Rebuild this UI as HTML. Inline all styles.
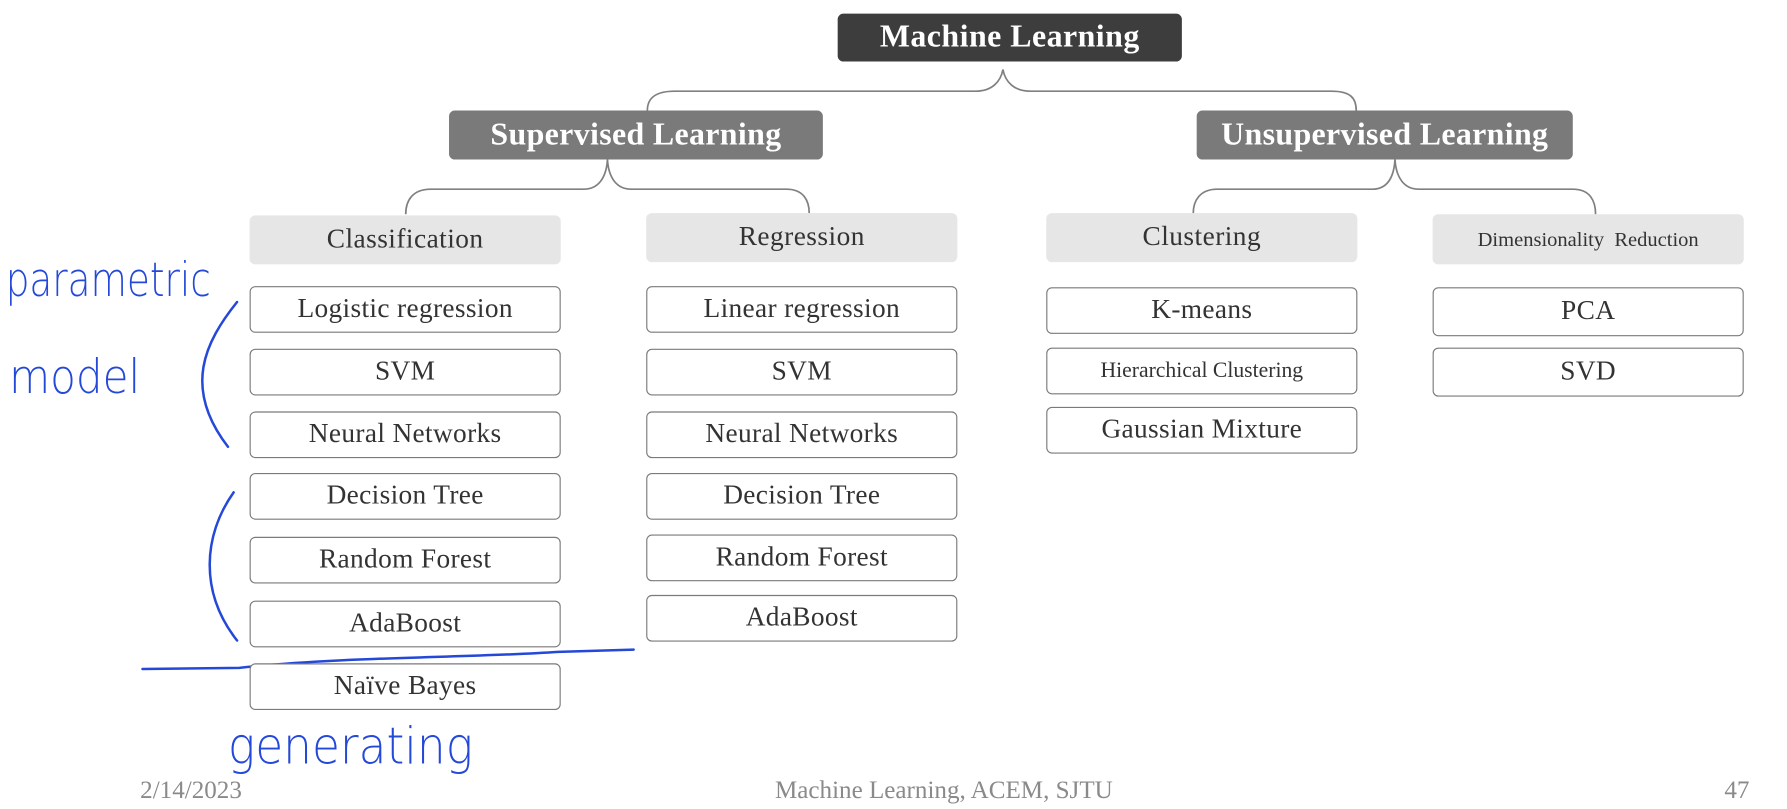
<!DOCTYPE html>
<html><head><meta charset="utf-8"><style>
html,body{margin:0;padding:0;background:#fff;width:1787px;height:809px;overflow:hidden}
#c{position:absolute;left:0;top:0;width:1568px;height:710px;transform:scale(1.1397);transform-origin:0 0;font-family:"Liberation Serif",serif}
.b{position:absolute;box-sizing:border-box;display:flex;align-items:center;justify-content:center;border-radius:5px;white-space:nowrap}
.d{background:#3d3d3d;color:#fff;font-weight:bold;font-size:28px;letter-spacing:0.4px}
.g{background:#7a7a7a;color:#fff;font-weight:bold;font-size:28px;letter-spacing:0.3px}
.l{background:#e6e6e6;color:#333;font-size:24px;letter-spacing:0.4px}
.w{background:#fff;border:1.5px solid #7a7a7a;color:#333;font-size:24px;letter-spacing:0.3px}
.f{position:absolute;color:#8a8a8a;font-size:22px;top:680px}
svg{position:absolute;left:0;top:0}
</style></head><body><div id="c">
<svg width="1568" height="710">
<g fill="none" stroke="#808080" stroke-width="1.5">
<path d="M568,97 C568,86 575,80 592,80 L856,80 C870,80 878,72 880,61 C882,72 890,80 904,80 L1168,80 C1185,80 1190,86 1190,97"/>
<path d="M356,188 C356,176 362,166 378,166 L512,166 C525,166 532,156 533,140 C534,156 541,166 554,166 L690,166 C705,166 710,176 710,187"/>
<path d="M1047,187 C1047,176 1053,166 1068,166 L1204,166 C1217,166 1223,156 1224,140 C1225,156 1232,166 1245,166 L1380,166 C1395,166 1400,176 1400,188"/>
</g>
<g fill="none" stroke="#2448d8" stroke-width="2.2" stroke-linecap="round">
<path d="M208,265 C180,300 160,340 200,392"/>
<path d="M205,432 C178,470 175,520 208,562"/>
<path d="M125,587 L210,586 C300,576 420,577 490,572 L556,570"/>
</g>
<g fill="#2448d8" font-family="DejaVu Sans,sans-serif" font-weight="200">
<text x="5" y="226" font-size="36" transform="scale(1,1.15)" textLength="180" lengthAdjust="spacingAndGlyphs">parametric</text>
<text x="8" y="300" font-size="36" transform="scale(1,1.15)" textLength="115" lengthAdjust="spacingAndGlyphs">model</text>
<text x="200" y="598" font-size="40" transform="scale(1,1.12)" textLength="215" lengthAdjust="spacingAndGlyphs">generating</text>
</g>
</svg>
<div class="b d" style="left:735px;top:12px;width:302px;height:42px">Machine Learning</div>
<div class="b g" style="left:394px;top:97px;width:328px;height:43px">Supervised Learning</div>
<div class="b g" style="left:1050px;top:97px;width:330px;height:43px">Unsupervised Learning</div>
<div class="b l" style="left:219px;top:189px;width:273px;height:43px">Classification</div>
<div class="b l" style="left:567px;top:187px;width:273px;height:43px">Regression</div>
<div class="b l" style="left:918px;top:187px;width:273px;height:43px">Clustering</div>
<div class="b l" style="left:1257px;top:188px;width:273px;height:44px;font-size:18px;letter-spacing:0">Dimensionality&nbsp; Reduction</div>

<div class="b w" style="left:219px;top:251px;width:273px;height:41px">Logistic regression</div>
<div class="b w" style="left:219px;top:306px;width:273px;height:41px">SVM</div>
<div class="b w" style="left:219px;top:361px;width:273px;height:41px">Neural Networks</div>
<div class="b w" style="left:219px;top:415px;width:273px;height:41px">Decision Tree</div>
<div class="b w" style="left:219px;top:471px;width:273px;height:41px">Random Forest</div>
<div class="b w" style="left:219px;top:527px;width:273px;height:41px">AdaBoost</div>
<div class="b w" style="left:219px;top:582px;width:273px;height:41px">Naïve Bayes</div>

<div class="b w" style="left:567px;top:251px;width:273px;height:41px">Linear regression</div>
<div class="b w" style="left:567px;top:306px;width:273px;height:41px">SVM</div>
<div class="b w" style="left:567px;top:361px;width:273px;height:41px">Neural Networks</div>
<div class="b w" style="left:567px;top:415px;width:273px;height:41px">Decision Tree</div>
<div class="b w" style="left:567px;top:469px;width:273px;height:41px">Random Forest</div>
<div class="b w" style="left:567px;top:522px;width:273px;height:41px">AdaBoost</div>

<div class="b w" style="left:918px;top:252px;width:273px;height:41px">K-means</div>
<div class="b w" style="left:918px;top:305px;width:273px;height:41px;font-size:19px;letter-spacing:0">Hierarchical Clustering</div>
<div class="b w" style="left:918px;top:357px;width:273px;height:41px">Gaussian Mixture</div>

<div class="b w" style="left:1257px;top:252px;width:273px;height:43px">PCA</div>
<div class="b w" style="left:1257px;top:305px;width:273px;height:43px">SVD</div>

<div class="f" style="left:123px">2/14/2023</div>
<div class="f" style="left:680px">Machine Learning, ACEM, SJTU</div>
<div class="f" style="left:1513px">47</div>
</div></body></html>
